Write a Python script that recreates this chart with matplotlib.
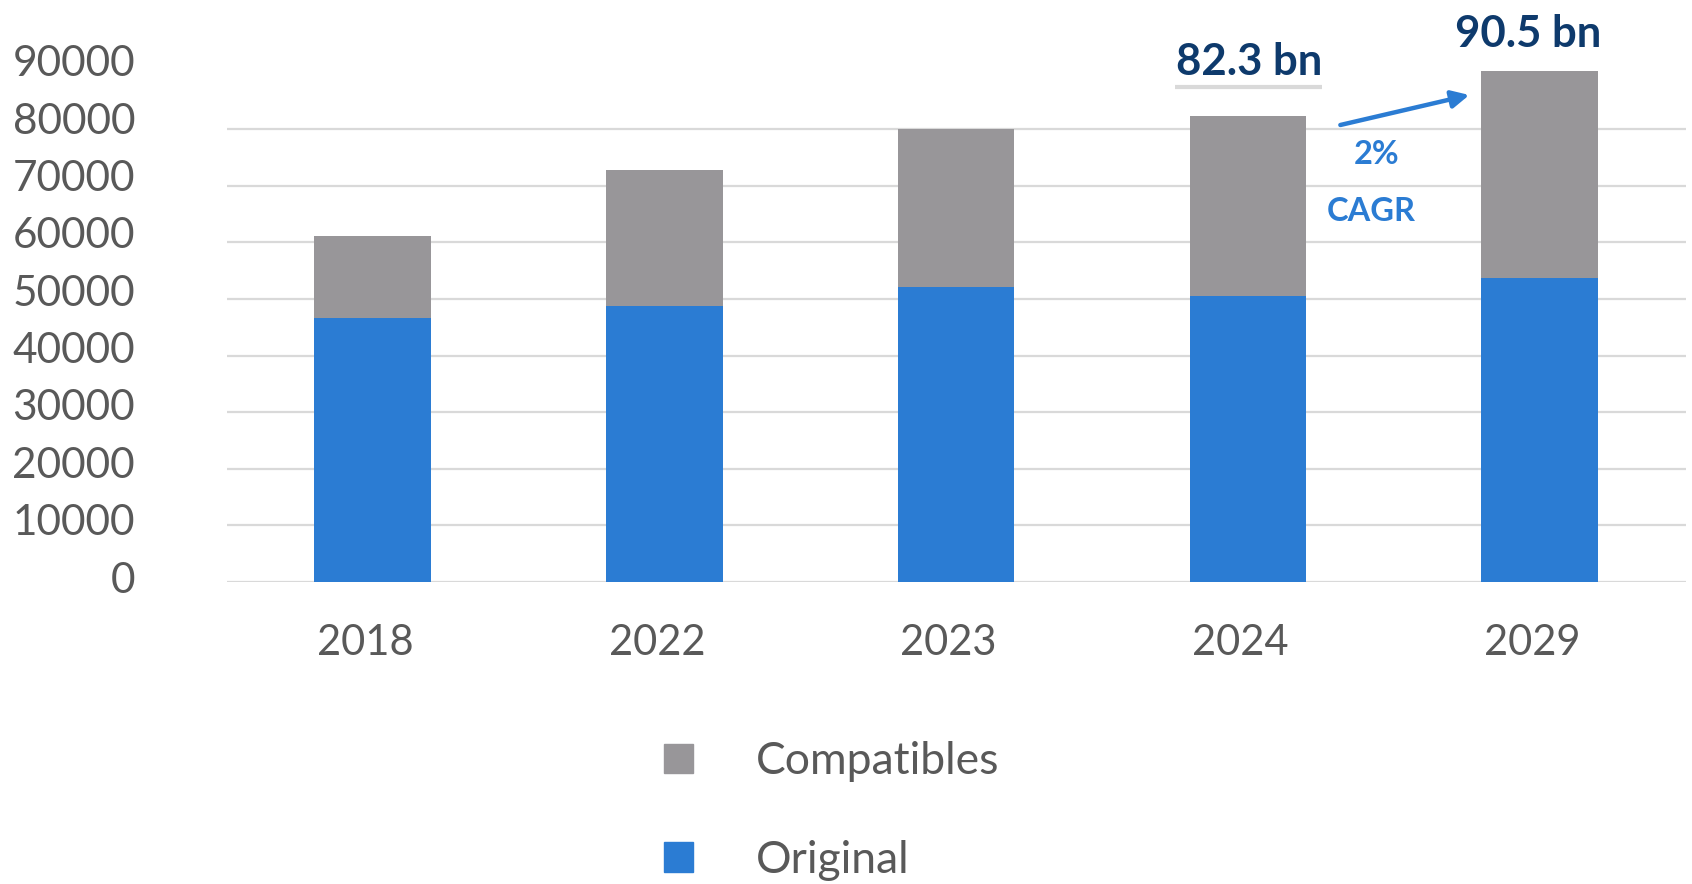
import matplotlib
matplotlib.use('Agg')
import matplotlib.pyplot as plt
from matplotlib.patches import Patch
from matplotlib.transforms import ScaledTranslation

plt.rcParams['font.family'] = ['Lato', 'DejaVu Sans']

# data
years = ['2018', '2022', '2023', '2024', '2029']
original = [46700, 48800, 52200, 50500, 53650]
compatibles = [14400, 24000, 27850, 31800, 36600]
y_labels = [str(v) for v in range(0, 90001, 10000)]
total_labels = {3: '82.3 bn', 4: '90.5 bn'}
cagr_text = ['2%', 'CAGR']

blue = '#2B7CD3'
grey = '#989699'
navy = '#0E3A6C'
txt = '#595959'

fig = plt.figure(figsize=(16.92, 8.84), dpi=100)
ax = fig.add_axes([226.7 / 1692, 1 - 582 / 884, (1685.5 - 226.7) / 1692, (582 - 60) / 884])

x = range(len(years))
ax.bar(x, original, width=0.4, color=blue, label='Original', zorder=2)
ax.bar(x, compatibles, width=0.4, bottom=original, color=grey, label='Compatibles', zorder=2)

ax.set_xlim(-0.5, 4.5)
ax.set_ylim(0, 92226)
ax.set_yticks(range(0, 80001, 10000))
ax.yaxis.grid(True, color='#D9D9D9', lw=1.6)
ax.set_axisbelow(True)
ax.tick_params(axis='y', length=0, labelleft=False)
ax.set_xticks(list(x), years)
ax.tick_params(axis='x', length=0, pad=30, labelsize=30, labelcolor=txt)
# year labels sit a little left of the bar centres in the source
for lbl in ax.get_xticklabels():
    lbl.set_transform(lbl.get_transform() + ScaledTranslation(-0.075, 0, fig.dpi_scale_trans))
for s in ax.spines.values():
    s.set_visible(False)

# y labels sit on their own scale (slightly off the gridlines in the source)
ax2 = ax.twinx()
ax2.set_ylim(-872, 90174)
ax2.yaxis.tick_left()
ax2.set_yticks(range(0, 90001, 10000), y_labels)
ax2.tick_params(axis='y', length=0, pad=66, labelsize=30.5, labelcolor=txt)
for s in ax2.spines.values():
    s.set_visible(False)

# total labels
ax.text(3.005, 91870, total_labels[3], ha='center', va='center', fontsize=31.5,
        fontweight='bold', color=navy, clip_on=False)
ax.plot([2.75, 3.255], [87540, 87540], color='#D9D9D9', lw=3, clip_on=False,
        solid_capstyle='butt')
ax.text(3.961, 96900, total_labels[4], ha='center', va='center', fontsize=31.5,
        fontweight='bold', color=navy, clip_on=False)

# CAGR arrow
ax.annotate('', xy=(3.759, 86042), xytext=(3.317, 80742),
            arrowprops=dict(arrowstyle='-|>', color=blue, lw=3.2, mutation_scale=26,
                            shrinkA=0, shrinkB=0), annotation_clip=False)
ax.text(3.44, 75442, cagr_text[0], ha='center', va='center', fontsize=23.5,
        fontweight='bold', color=blue)
ax.text(3.423, 65371, cagr_text[1], ha='center', va='center', fontsize=23.5,
        fontweight='bold', color=blue)

handles = [Patch(color=grey, label='Compatibles'), Patch(color=blue, label='Original')]
fig.legend(handles=handles, loc='center left', bbox_to_anchor=(664 / 1692, 1 - 811 / 884),
           frameon=False, fontsize=32, labelcolor=txt, borderpad=0, borderaxespad=0,
           handlelength=0.66, handleheight=0.66, handletextpad=1.4, labelspacing=1.3)

fig.savefig('out.png', dpi=100)
